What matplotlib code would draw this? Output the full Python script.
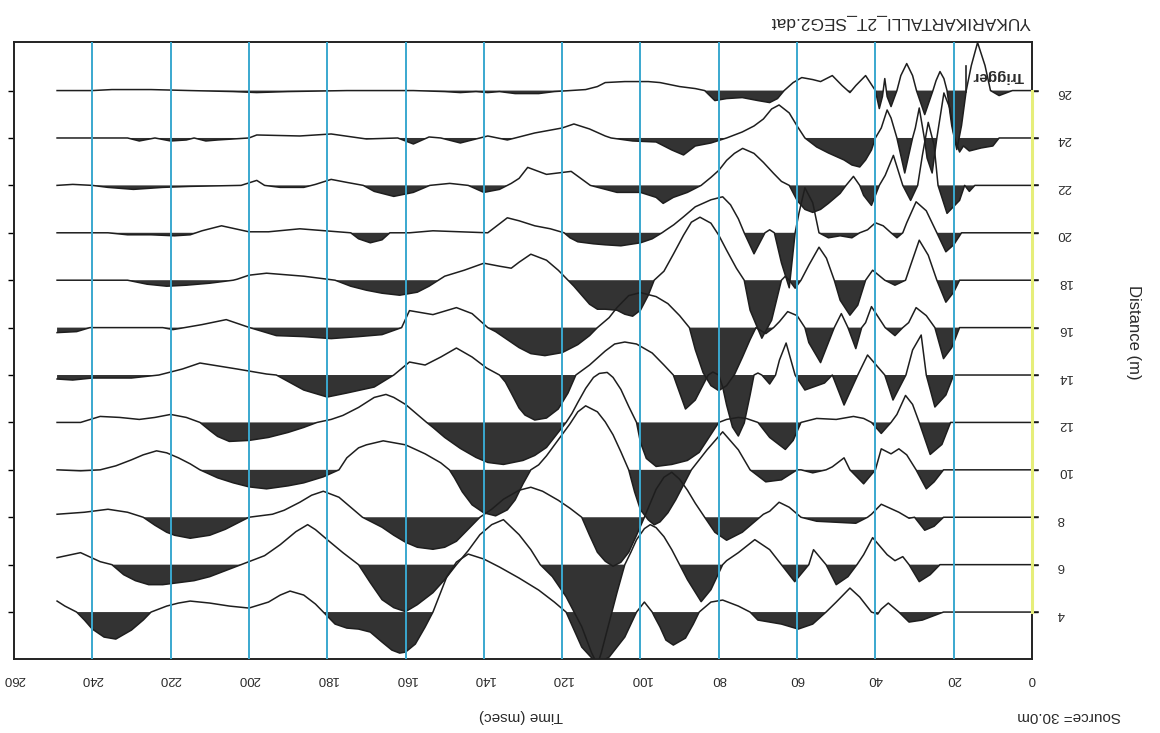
import matplotlib
matplotlib.use("Agg")
import matplotlib.pyplot as plt
import numpy as np

plt.rcParams["font.family"] = ["Liberation Sans", "DejaVu Sans"]

# Geophone offsets (m) and the recorded traces as (time ms, amplitude) samples
offsets = [26, 24, 22, 20, 18, 16, 14, 12, 10, 8, 6, 4]

trace_26 = [(0, 0), (5, 0), (8.4, -5), (10.6, 0), (12, 25), (13.9, 48), (15.5, 25), (16.8, 0),
            (18, -35), (19.2, -59), (20.5, -35), (21.7, 0), (22.5, 12), (23.5, 19), (24.5, 10),
            (25.3, 0), (27.4, -24), (29.5, 0), (30.5, 15), (32, 27), (33.5, 15), (34.5, 0),
            (36, -16), (37, -6), (37.6, 12), (38.2, -6), (39, -18), (40, 0), (42.5, 15), (45, 5),
            (46.5, -2), (48.5, 5), (51, 15), (54, 9), (56, 11), (58.8, 13), (61, 8), (63.3, 0),
            (65, -8), (67, -12), (70, -10), (74, -7), (78, -8), (81, -10), (83.6, 0), (86, 2),
            (90, 4), (95, 8), (98, 9), (104, 9), (109, 8), (111, 4), (114, 1), (118, 0),
            (122, -1), (126, -3), (132, -3), (136, -1), (139, -2), (142, -1), (146, -2),
            (150, -1), (158, 0), (175, 0), (190, -1), (198, -2), (204, -1), (215, 0), (225, 1),
            (235, 1), (240, 0), (249, 0)]

trace_24 = [(0, 0), (8.4, 0), (10, -8), (13, -10), (16, -13), (17.5, -8), (18.5, -14), (19.8, 0),
            (21, 30), (22.5, 45), (23.5, 20), (24.3, 0), (25.5, -35), (26.8, -20), (27.5, 0),
            (28.8, 30), (29.8, 10), (30.5, 0), (32.5, -35), (34.5, 0), (36, 20), (37, 28),
            (38.5, 10), (40, 0), (41, -12), (42.5, -22), (44, -29), (46, -27), (48, -22),
            (52, -15), (55, -9), (58, 0), (60, 12), (62, 25), (64.6, 33), (66.5, 29),
            (68.6, 19), (71, 12), (74, 6), (78, 0), (82, -5), (86, -8), (89, -17), (92, -12),
            (96, -4), (102, -3), (107.5, 0), (109, 2), (113, 9), (117, 14), (120, 10), (127, 5),
            (132, 0), (134, -2), (139, 2), (141, 0), (146, -5), (151, 0), (154, 1), (158, -6),
            (162, 0), (170, -1), (179, 4), (187, 2), (198, 3), (200, 0), (208, -2), (211, -3),
            (214, 0), (216, -2), (220, -3), (224, 0), (228, -3), (231, 0), (249, 0)]

trace_22 = [(0, 0), (14.6, 0), (16, -6), (17.2, 0), (18.5, -15), (21.7, -28), (24, 0), (25, 40),
            (26.5, 63), (28, 30), (29.2, 0), (31, -15), (33, 0), (35.4, 30), (37.5, 10), (39, 0),
            (41, -20), (43, -10), (44, 0), (45.6, 9), (47.5, 0), (49, -8), (52, -18), (54, -24),
            (56, -27), (58, -24), (60, -15), (62, 0), (64, 4), (66, 12), (68.6, 23), (71, 32),
            (73.9, 37), (76, 32), (78, 25), (80, 15), (82, 8), (84.5, 0), (88, -7), (91.6, -12),
            (94.2, -18), (96, -12), (100, -7), (106, -7), (112.8, 0), (117.7, 14), (124, 11),
            (128.8, 18), (131, 7), (133, 2), (136, -4), (140, -7), (144, 0), (148.7, 2),
            (153.8, 0), (158, -7), (163, -11), (168, -6), (170.8, 0), (175, 3), (179, 6),
            (183, 1), (186, -2), (192, -2), (196, 0), (198, 5), (202, 0), (215, -1), (222, -2),
            (229.5, -4), (236, -2), (240, 0), (245, 1), (249, 0)]

trace_20 = [(0, 0), (18, 0), (20, -12), (22, -19), (24.3, 0), (27, 22), (29.6, 31), (32, 10),
            (33, 0), (34.5, -5), (36, 0), (38, 7), (40, 10), (42, 3), (44, 0), (46, -5), (49, -3),
            (52, -5), (54.4, 0), (56, 30), (58, 45), (59.5, 20), (60.5, 0), (62, -55), (64, -30),
            (65.8, 0), (67, 3), (68.2, 0), (71, -21), (73.5, 0), (75, 14), (77, 28), (79, 36),
            (82, 33), (86, 26), (89, 16), (91.5, 8), (93.4, 3), (94.5, 0), (97, -6), (100, -10),
            (105, -13), (109, -12), (112, -11), (116, -9), (118, -5), (119.5, 0), (123, 4),
            (127, 7), (131, 12), (134, 15), (137, 6), (139, 0), (146, 1), (153, 2), (159, 0),
            (164, 0), (166, -7), (169, -10), (172, -6), (174, 0), (187, 4), (195, 1), (200, 1),
            (207, 7), (212, 2), (215, -2), (219, -3), (225, -2), (231, -2), (236, 0), (249, 0)]

trace_18 = [(0, 0), (18.5, 0), (20, -12), (22, -22), (24.3, 0), (26.5, 25), (28.8, 40), (31, 15),
            (32.3, 0), (35, -5), (37.6, 0), (40.7, 10), (42.5, 0), (44.5, -25), (46.5, -35),
            (49, -20), (50.5, 0), (52.5, 22), (54.4, 33), (57, 15), (59, 0), (60.5, -8), (62, 0),
            (63, 4), (64, 0), (66.5, -40), (69, -58), (72, -30), (73.5, 0), (75.5, 12), (78, 30),
            (80, 45), (82, 57), (84.8, 63), (87, 58), (89, 45), (91.6, 26), (94, 9), (96.5, 0),
            (98, -15), (100, -30), (102, -36), (104, -34), (106, -30), (109, -29), (111, -29),
            (113, -24), (115, -15), (117, -6), (118.5, 0), (121, 10), (124, 20), (128, 26),
            (131, 18), (133, 12), (136, 14), (140, 17), (145, 10), (150, 4), (151.6, 0),
            (154, -6), (157, -12), (161.5, -15), (166, -13), (170, -10), (174, -6), (178, 0),
            (186, 4), (195.5, 7), (200, 5), (203, 1), (204, 0), (210, -3), (216, -5), (221, -6),
            (226, -4), (231, 0), (249, 0)]

trace_16 = [(0, 0), (18.5, 0), (20.5, -20), (22.6, -31), (24.8, 0), (27, 12), (29.6, 20),
            (31.5, 5), (33, 0), (35, -8), (37.5, 0), (41, 21), (42.5, 5), (43.5, 0), (45, -21),
            (47, 0), (48.7, 14), (50.5, 0), (54, -35), (57, -15), (58, 0), (60, 12), (62.4, 16),
            (64.5, 6), (66, 0), (68, -6), (70.5, 0), (72, -12), (74, -30), (76, -47), (78, -58),
            (80, -63), (82, -58), (84, -45), (86, -22), (87.5, 0), (90, 12), (93, 24), (96, 31),
            (100, 35), (103, 32), (106, 20), (108, 10), (111, 0), (113, -8), (116, -17),
            (120, -25), (124.4, -28), (128, -26), (131, -20), (134, -12), (137, -4), (139, 0),
            (143, 14), (147, 20), (153, 13), (159, 17), (161, 0), (166, -7), (172, -9),
            (179, -11), (186, -9), (193, -8), (199.8, 0), (205.8, 8), (212, 3), (219.4, -2),
            (222, 0), (228, 0), (240.6, 0), (244, -4), (249, -5)]

trace_14 = [(0, 0), (20, 0), (22, -20), (24.8, -32), (27, 0), (28.3, 40), (30.5, 25), (32.2, 0),
            (35.5, -25), (37.6, 0), (42, 20), (44.5, 0), (48, -30), (51, 0), (53, -8), (58, -15),
            (60.5, 0), (62.8, 32), (64.5, 15), (65.5, 0), (67, -9), (69, 0), (70, 2), (71, 0),
            (72, -20), (73.5, -48), (75, -61), (76.5, -52), (78, -30), (79, -12), (80, 0),
            (81.5, 3), (82.7, 0), (86, -25), (88.5, -34), (90.7, -10), (91.6, 0), (94, 10),
            (97, 22), (101, 31), (104, 33), (106.6, 31), (109, 24), (111, 17), (113, 10),
            (116.5, 0), (118.5, -18), (121, -34), (124, -43), (127, -45), (129.5, -40),
            (131, -33), (133, -18), (134.5, -7), (136, 0), (139.3, 7), (143, 18), (147, 27),
            (151, 18), (155, 10), (159, 13), (163, 0), (168, -12), (175, -18), (180, -22),
            (186, -15), (193, 0), (195.5, 1), (203, 6), (212.5, 12), (217, 6), (221, 2), (223, 0),
            (230, -3), (240, -3), (245, -5), (249, -4)]

trace_12 = [(0, 0), (20.8, 0), (23, -22), (26, -32), (28.8, 0), (30.5, 18), (32.3, 27), (34.5, 8),
            (36, 0), (38.5, -11), (41, 0), (43, 4), (45.6, 6), (50, 3), (55, 4), (59, 0),
            (61, -18), (63, -27), (67, -15), (70, 0), (73, 4), (75, 5), (78, 3), (80, 0),
            (82, -12), (85, -30), (88, -38), (92, -42), (96, -44), (98.5, -36), (100, -20),
            (101, 0), (103, 16), (105, 33), (107, 45), (108.5, 50), (110.5, 49), (112, 45),
            (114, 34), (116, 20), (117.5, 9), (119, 0), (121, -10), (124, -25), (127, -33),
            (130, -38), (135, -42), (139, -40), (142, -35), (146, -26), (150, -15), (153, -5),
            (154.6, 0), (157, 8), (160, 18), (163, 25), (165, 28), (168, 25), (172, 15),
            (176, 7), (179, 3), (182.6, 0), (186, -5), (190, -10), (195, -15), (200, -18),
            (205, -19), (208, -14), (210, -8), (212.5, 0), (216, 5), (220, 8), (224, 5),
            (228, 3), (233, 5), (238, 6), (243, 0), (249, 0)]

trace_10 = [(0, 0), (22.6, 0), (25, -12), (27, -19), (29.6, 0), (32, 15), (34, 21), (36, 16),
            (38.5, 21), (40, 0), (43, -14), (46.5, 0), (48, 12), (51, 3), (52.6, 0), (56, -3),
            (59, 0), (60, 0), (64, -10), (68, -12), (72, 0), (75, 20), (79, 38), (83, 20),
            (87, 0), (89, -15), (91, -30), (93, -43), (95, -52), (96.5, -55), (98, -50),
            (100, -40), (101.5, -22), (103, 0), (105, 18), (107, 35), (109, 48), (111, 58),
            (114, 64), (116, 58), (118, 46), (121, 30), (124, 14), (126, 5), (128, 0),
            (130, -14), (132, -30), (134, -40), (137, -46), (140, -43), (143, -35),
            (145.5, -22), (147.5, -8), (148.8, 0), (151, 7), (155, 16), (160, 25), (165.7, 29),
            (170, 25), (172, 22), (175, 12), (177, 0), (181, -7), (186, -13), (190, -16),
            (195.5, -19), (200, -17), (204, -13), (208, -8), (212.5, 0), (215, 6), (218, 12),
            (221, 17), (223.6, 19), (227, 15), (230, 10), (234, 4), (238, 0), (243, -1),
            (249, 0)]

trace_8 = [(0, 0), (22.6, 0), (25, -9), (27.4, -13), (30, 0), (31.4, -1), (34, 5), (38.5, 13),
           (41, 3), (42, 0), (45, -6), (50, -5), (55, -4), (59, 0), (62, 10), (64.6, 15), (67, 6),
           (68.6, 3), (69.5, 0), (74, -15), (78, -23), (81, -15), (83.6, 0), (86, 14), (88, 27),
           (90, 38), (92, 45), (94, 40), (96, 28), (97.5, 14), (99, 0), (101, -18), (103, -35),
           (105, -45), (107, -49), (109, -44), (111, -35), (113, -18), (115, 0), (118, 9),
           (121, 17), (125, 26), (128, 30), (131, 27), (135, 18), (138, 8), (141, 0),
           (144, -12), (147, -24), (150, -30), (153, -32), (157, -30), (160, -25), (163, -18),
           (166, -10), (169, -4), (171, 0), (174, 10), (177, 20), (181, 26), (184, 22),
           (187, 15), (191, 7), (194, 3), (200, 0), (203, -6), (206, -12), (210, -18),
           (215, -21), (219, -18), (221, -15), (224, -8), (227, 0), (231, 5), (236, 8),
           (242, 5), (249, 3)]

trace_6 = [(0, 0), (23.5, 0), (26, -10), (28.8, -17), (31.4, 0), (33, 8), (35, 4), (37, 10),
           (40.7, 27), (43, 10), (44.7, 0), (47, -12), (50, -20), (52.6, 0), (55.8, 15), (57, 0),
           (60.6, -17), (64, 0), (67, 15), (70.8, 25), (75, 12), (78, 4), (79, 0), (82, -25),
           (84.5, -37), (88, -15), (90, 0), (92, 15), (94, 28), (96, 37), (97.5, 40), (99, 36),
           (101, 25), (102.5, 12), (104, 0), (106, -28), (108, -58), (110, -88), (111, -100),
           (112.5, -88), (115, -62), (119, -32), (122.5, -12), (125.6, 0), (128, 15), (131, 30),
           (135, 45), (138, 40), (141, 30), (144, 14), (147, 0), (150, -15), (153, -28),
           (157, -40), (160, -47), (163, -43), (166, -35), (169, -18), (172, 0), (176, 12),
           (180, 25), (183, 35), (185, 40), (188, 33), (192, 20), (196, 9), (200, 3), (202, 0),
           (206, -6), (210, -12), (214, -16), (218, -18), (222, -20), (225.6, -20), (229, -16),
           (232, -10), (235, 0), (238, 3), (243, 12), (249, 7)]

trace_4 = [(0, 0), (22.6, 0), (26, -5), (28, -8), (31.4, -10), (34, 0), (36.7, 9), (38.5, 3),
           (39.4, -2), (41, 0), (44, 15), (46.5, 24), (50, 10), (52.6, 0), (56, -12),
           (59.7, -17), (64, -12), (67, -10), (70, -8), (72, 0), (75, 6), (79, 12), (82, 10),
           (85, 0), (86.5, -12), (88.5, -26), (91.6, -33), (93.5, -28), (95, -15), (96.5, -4),
           (97, 0), (99, 10), (101, 0), (104, -25), (108, -45), (111, -52), (115, -35),
           (119, 0), (122, 10), (126, 22), (131, 34), (136, 45), (140, 53), (144, 58),
           (147, 50), (149.5, 35), (151.5, 15), (153, 0), (155, -15), (157.5, -32), (160, -40),
           (161.5, -41), (163.5, -38), (166, -30), (169, -20), (172, -17), (175, -16),
           (178, -12), (181, 0), (183, 8), (186, 17), (189.5, 21), (192, 17), (195, 10),
           (200, 4), (205, 6), (210, 9), (215, 11), (218, 9), (221, 6), (225, 0), (227, -8),
           (230, -18), (234, -27), (237, -25), (240, -17), (242, -8), (244, 0), (247, 6),
           (249, 11)]

traces = [trace_26, trace_24, trace_22, trace_20, trace_18, trace_16,
          trace_14, trace_12, trace_10, trace_8, trace_6, trace_4]

time_ticks = [0, 20, 40, 60, 80, 100, 120, 140, 160, 180, 200, 220, 240, 260]
offset_ticks = [4, 6, 8, 10, 12, 14, 16, 18, 20, 22, 24, 26]

GAIN = 1.0 / 23.7   # amplitude units per metre of offset axis
FILL = "#333333"
GRID = "#3aa8cf"
TXT = "#2a2a2a"

W, H = 1160, 733
fig = plt.figure(figsize=(W / 100, H / 100), dpi=100)
ax = fig.add_axes([14 / W, 1 - 659 / H, (1032 - 14) / W, (659 - 41.5) / H])
ax.set_xlim(260, 0)
ax.set_ylim(2.02, 28.07)

for x in time_ticks[1:-1]:
    ax.axvline(x, color=GRID, lw=1.4, zorder=5)

for d, tr in zip(offsets, traces):
    t = np.array([p[0] for p in tr], dtype=float)
    a = np.array([p[1] for p in tr], dtype=float) * GAIN
    ax.fill_between(t, d, d + a, where=a < 0, interpolate=True, color=FILL, lw=0, zorder=2)
    ax.plot(t, d + a, color="#1e1e1e", lw=1.1, zorder=3, solid_joinstyle="round")
    ax.plot([t[0], -1.5], [d, d], color="#1e1e1e", lw=1.1, zorder=3, clip_on=False)

# time-zero marker
ax.plot([0, 0], [4, 26], color="#e6ee7a", lw=2.2, zorder=6, clip_on=False)

for s in ax.spines.values():
    s.set_color("#222222")
    s.set_linewidth(1.4)

ax.set_xticks(time_ticks)
ax.set_xticklabels([str(v) for v in time_ticks], rotation=180, color=TXT, fontsize=9.5)
ax.tick_params(axis="x", length=0, pad=10)
ax.set_yticks(offset_ticks)
ax.set_yticklabels([str(v) for v in offset_ticks], rotation=180, color=TXT, fontsize=9.5)
ax.tick_params(axis="y", which="both", left=True, right=True, labelleft=False,
               labelright=True, direction="out", length=4, width=1, pad=14)

fig.text(901 / W, 1 - 22 / H, "YUKARIKARTALLI_2T_SEG2.dat", rotation=180,
         ha="center", va="center", fontsize=12.5, color=TXT)
fig.text(521 / W, 1 - 716 / H, "Time (msec)", rotation=180,
         ha="center", va="center", fontsize=11, color=TXT)
fig.text(1069 / W, 1 - 716 / H, "Source= 30.0m", rotation=180,
         ha="center", va="center", fontsize=11, color=TXT)
fig.text(1134 / W, 1 - 332 / H, "Distance (m)", rotation=270,
         ha="center", va="center", fontsize=12, color=TXT)
fig.text(998 / W, 1 - 76 / H, "Trigger", rotation=180, ha="center", va="center",
         fontsize=11, fontweight="bold", color=TXT, zorder=7)
fig.add_artist(plt.Line2D([966 / W, 966 / W], [1 - 92 / H, 1 - 66 / H],
                          transform=fig.transFigure, color="#222222", lw=1.2))

fig.savefig("out.png", dpi=100)
